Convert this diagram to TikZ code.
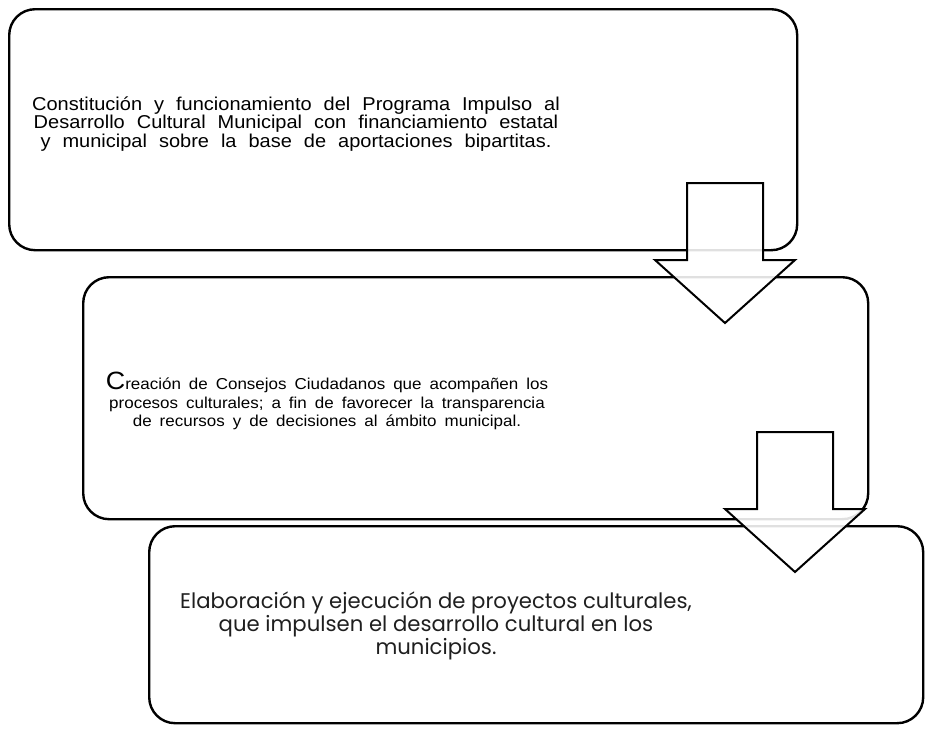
\documentclass[tikz,border=0pt]{standalone}
\usepackage{fontspec}
\newfontfamily\arialf[FakeStretch=1.075]{Liberation Sans}
\newfontfamily\montf{Poppins}
\newcommand{\textoA}{\arialf\fontsize{18.6}{18.6}\selectfont\spaceskip=12pt\lineskiplimit=-20pt\relax}
\newcommand{\textoC}{\arialf\fontsize{15.8}{18.5}\selectfont\spaceskip=8pt\lineskiplimit=-20pt\relax}
\newcommand{\textoB}{\montf\fontsize{21.2}{23}\selectfont\lineskiplimit=-20pt\relax}
\usetikzlibrary{positioning}

\begin{document}
\begin{tikzpicture}[x=1pt,y=-1pt]
  \tikzset{caja/.style={draw, rounded corners=26pt, line width=2.4pt, inner sep=0pt, anchor=north west},
           texto/.style={align=center, inner sep=0pt},
           flecha/.pic={\draw[line width=2pt, fill=white, fill opacity=0.88]
             (-38,0) -- (38,0) -- (38,77) -- (70,77) -- (0,140) -- (-70,77) -- (-38,77) -- cycle;}}

  \useasboundingbox (0,0) rectangle (926,728);

  \node[caja, minimum width=788pt, minimum height=241pt] (c1) at (8,8)    {};
  \node[caja, minimum width=785pt, minimum height=242pt] (c2) at (82,276) {};
  \node[caja, minimum width=774pt, minimum height=197pt] (c3) at (148,525) {};

  \node[texto, font=\textoA] (t1) at (296,124)
    {Constitución y funcionamiento del Programa Impulso al\\
     Desarrollo Cultural Municipal con financiamiento estatal\\
     y municipal sobre la base de aportaciones bipartitas.};
  \node[texto, font=\textoC] (t2) at (327,401)
    {{\fontsize{25}{18.5}\selectfont C}reación de Consejos Ciudadanos que acompañen los\\
     procesos culturales; a fin de favorecer la transparencia\\
     de recursos y de decisiones al ámbito municipal.};
  \node[texto, font=\textoB, text=black!88] (t3) at (436,626)
    {Elaboración y ejecución de proyectos culturales,\\
     que impulsen el desarrollo cultural en los\\
     municipios.};

  % flechas
  \pic (f1) at (725,183) {flecha};
  \pic (f2) at (795,432) {flecha};
\end{tikzpicture}
\end{document}
